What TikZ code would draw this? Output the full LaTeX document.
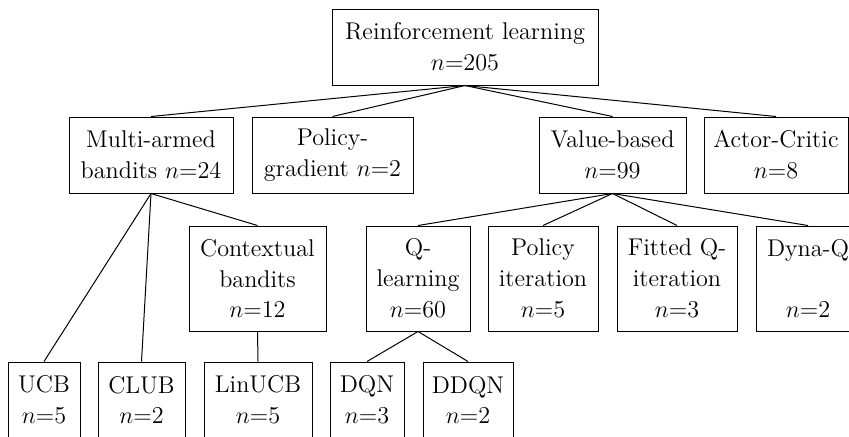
\documentclass[tikz,border=0pt]{standalone}
\begin{document}
\begin{tikzpicture}[x=0.5pt,y=-0.5pt,
  box/.style={draw, line width=0.5pt, rectangle, inner sep=0pt, align=center,
    font=\fontsize{12.1}{15.4}\selectfont},
  lvl/.style={box, minimum height=38pt},
  tall/.style={box, minimum height=52.5pt},
  edge/.style={line width=0.5pt}]
\useasboundingbox (0,0) rectangle (849,436);
\clip (0,0) rectangle (849,436);

% root
\node[lvl, minimum width=133pt] (rl) at (465,47) {Reinforcement learning\\$n$=205};

% first level
\node[lvl, minimum width=82pt]   (mab) at (151,155)   {Multi-armed\\bandits $n$=24};
\node[lvl, minimum width=80.5pt] (pg)  at (332.5,155) {Policy-\\gradient $n$=2};
\node[lvl, minimum width=73.5pt] (vb)  at (612.5,155) {Value-based\\$n$=99};
\node[lvl, minimum width=72pt]   (ac)  at (776,155)   {Actor-Critic\\$n$=8};

% second level
\node[tall, minimum width=68.5pt] (cb) at (257.5,278.5) {Contextual\\bandits\\$n$=12};
\node[tall, minimum width=52pt]   (ql) at (418,278.5)   {Q-\\learning\\$n$=60};
\node[tall, minimum width=55pt]   (pi) at (543,278.5)   {Policy\\iteration\\$n$=5};
\node[tall, minimum width=60pt]   (fq) at (677,278.5)   {Fitted Q-\\iteration\\$n$=3};
\node[tall, minimum width=52pt]   (dy) at (808,278.5)   {Dyna-Q\\ \\$n$=2};

% third level
\node[lvl, minimum width=36pt]   (ucb)  at (44,400)    {UCB\\$n$=5};
\node[lvl, minimum width=43.5pt] (club) at (141.5,400) {CLUB\\$n$=2};
\node[lvl, minimum width=54pt]   (lin)  at (258,400)   {LinUCB\\$n$=5};
\node[lvl, minimum width=37pt]   (dqn)  at (367,400)   {DQN\\$n$=3};
\node[lvl, minimum width=45pt]   (ddqn) at (468,400)   {DDQN\\$n$=2};

% connectors
\foreach \c in {mab,pg,vb,ac} \draw[edge] (rl.south) -- (\c.north);
\foreach \c in {ucb,club,cb} \draw[edge] (mab.south) -- (\c.north);
\draw[edge] (cb.south) -- (lin.north);
\foreach \c in {ql,pi,fq,dy} \draw[edge] (vb.south) -- (\c.north);
\foreach \c in {dqn,ddqn} \draw[edge] (ql.south) -- (\c.north);
\end{tikzpicture}
\end{document}
